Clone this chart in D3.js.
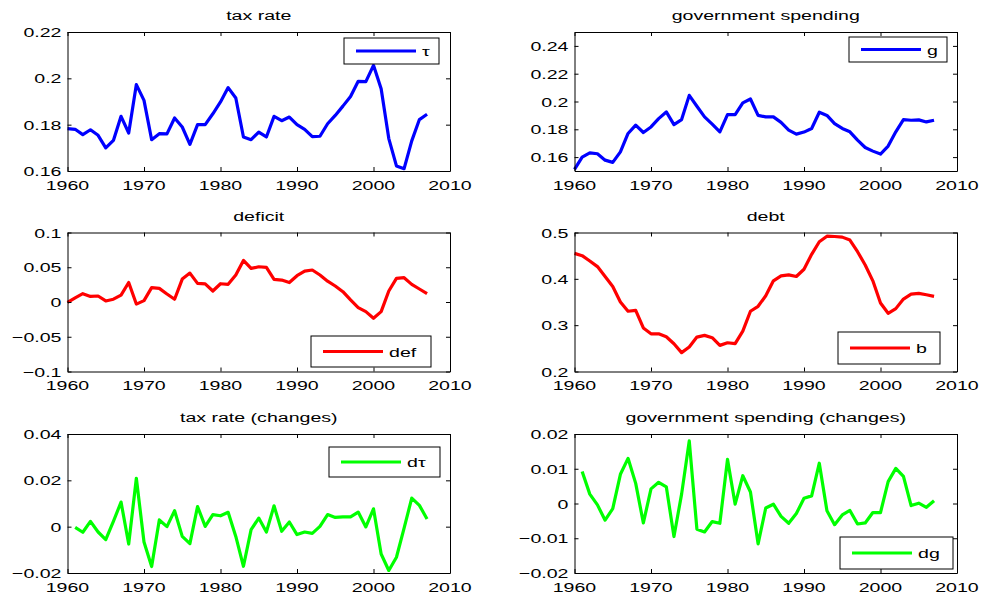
<!DOCTYPE html>
<html><head><meta charset="utf-8">
<script src="https://cdn.jsdelivr.net/npm/d3@7"></script>
<style>body{margin:0;background:#fff}svg{display:block}</style>
</head><body>
<svg id="c" width="986" height="601"></svg>
<script>
const years = d3.range(1960, 2008);
const yearsChg = d3.range(1961, 2008);

const tau = [0.1783,0.1780,0.1757,0.1778,0.1754,0.1700,0.1732,0.1836,0.1764,0.1973,
  0.1905,0.1735,0.1761,0.1760,0.1829,0.1790,0.1715,0.1800,0.1800,0.1847,
  0.1898,0.1960,0.1915,0.1747,0.1735,0.1768,0.1747,0.1836,0.1817,0.1833,
  0.1800,0.1780,0.1748,0.1750,0.1804,0.1840,0.1880,0.1922,0.1987,0.1986,
  0.2056,0.1955,0.1740,0.1622,0.1610,0.1730,0.1822,0.1845];
const g = [0.1512,0.1600,0.1631,0.1624,0.1578,0.1562,0.1638,0.1770,0.1830,0.1777,
  0.1817,0.1877,0.1925,0.1834,0.1870,0.2044,0.1966,0.1889,0.1837,0.1782,
  0.1906,0.1906,0.1990,0.2018,0.1900,0.1889,0.1889,0.1850,0.1794,0.1765,
  0.1780,0.1806,0.1923,0.1900,0.1841,0.1806,0.1782,0.1722,0.1669,0.1643,
  0.1622,0.1679,0.1782,0.1870,0.1865,0.1868,0.1853,0.1865];
const def = [-0.0005,0.006,0.012,0.008,0.0086,0.0015,0.004,0.010,0.028,-0.003,
  0.002,0.0206,0.0196,0.0115,0.004,0.033,0.0416,0.0268,0.026,0.0158,
  0.0263,0.0254,0.0388,0.0598,0.0483,0.0507,0.0498,0.0325,0.0316,0.028,
  0.0378,0.0445,0.046,0.0388,0.030,0.023,0.0148,0.003,-0.008,-0.0139,
  -0.0234,-0.0139,0.0158,0.034,0.035,0.0254,0.0187,0.012];
const debt = [0.455,0.450,0.4386,0.4264,0.405,0.3836,0.350,0.330,0.332,0.294,
  0.2814,0.2814,0.275,0.260,0.2407,0.2529,0.2743,0.278,0.273,0.2564,
  0.262,0.260,0.287,0.330,0.3407,0.3636,0.3957,0.4064,0.4086,0.405,
  0.4207,0.4529,0.480,0.492,0.4914,0.490,0.4836,0.4586,0.430,0.3957,
  0.3479,0.3257,0.3357,0.3564,0.3671,0.3686,0.3657,0.3621];
const dtau = [-0.0003,-0.0024,0.0023,-0.0023,-0.0056,0.0023,0.0106,-0.0075,0.0209,
  -0.0066,-0.0172,0.0029,0.0000,0.0069,-0.0042,-0.0073,0.0087,0.0001,0.0052,
  0.0047,0.0062,-0.0042,-0.0171,-0.0013,0.0037,-0.0023,0.0090,-0.0020,0.0020,
  -0.0034,-0.0023,-0.0029,0.0001,0.0052,0.0040,0.0042,0.0042,0.0063,-0.0001,
  0.0077,-0.0118,-0.0189,-0.0132,-0.0006,0.0123,0.0092,0.0033];
const dg = [0.0092,0.0027,-0.0004,-0.0048,-0.0015,0.0084,0.0130,0.0058,-0.0056,
  0.0042,0.0061,0.0048,-0.0095,0.0027,0.0180,-0.0074,-0.0082,-0.0052,-0.0057,
  0.0127,-0.0002,0.0080,0.0033,-0.0116,-0.0013,-0.0002,-0.0037,-0.0057,-0.0029,
  0.0015,0.0022,0.0116,-0.0021,-0.0061,-0.0033,-0.0020,-0.0059,-0.0056,-0.0026,
  -0.0026,0.0063,0.0101,0.0078,-0.0006,0.0001,-0.0011,0.0008];

const xTicks = [1960, 1970, 1980, 1990, 2000, 2010];
const xTickLabels = ["1960","1970","1980","1990","2000","2010"];
const tauTicks = [0.16, 0.18, 0.2, 0.22];
const tauTickLabels = ["0.16","0.18","0.2","0.22"];
const gTicks = [0.16, 0.18, 0.2, 0.22, 0.24];
const gTickLabels = ["0.16","0.18","0.2","0.22","0.24"];
const defTicks = [-0.1, -0.05, 0, 0.05, 0.1];
const defTickLabels = ["\u22120.1","\u22120.05","0","0.05","0.1"];
const debtTicks = [0.2, 0.3, 0.4, 0.5];
const debtTickLabels = ["0.2","0.3","0.4","0.5"];
const dtauTicks = [-0.02, 0, 0.02, 0.04];
const dtauTickLabels = ["\u22120.02","0","0.02","0.04"];
const dgTicks = [-0.02, -0.01, 0, 0.01, 0.02];
const dgTickLabels = ["\u22120.02","\u22120.01","0","0.01","0.02"];

const titles = ["tax rate","government spending","deficit","debt","tax rate (changes)","government spending (changes)"];
const legendNames = ["\u03C4","g","def","b","d\u03C4","dg"];

const panels = [
  {x: years, y: tau, dom:[0.16,0.22], ticks:tauTicks, labels:tauTickLabels, col:"#0000ff", left:67.5, top:32, leg:{x:344,y:38,w:95,h:26}},
  {x: years, y: g, dom:[0.15,0.25], ticks:gTicks, labels:gTickLabels, col:"#0000ff", left:574.5, top:32, leg:{x:849,y:37,w:98,h:25}},
  {x: years, y: def, dom:[-0.1,0.1], ticks:defTicks, labels:defTickLabels, col:"#ff0000", left:67.5, top:232.5, leg:{x:311,y:336,w:120,h:31}},
  {x: years, y: debt, dom:[0.2,0.5], ticks:debtTicks, labels:debtTickLabels, col:"#ff0000", left:574.5, top:232.5, leg:{x:838,y:332,w:102,h:32}},
  {x: yearsChg, y: dtau, dom:[-0.02,0.04], ticks:dtauTicks, labels:dtauTickLabels, col:"#00ff00", left:67.5, top:434, leg:{x:329,y:447,w:111,h:30}},
  {x: yearsChg, y: dg, dom:[-0.02,0.02], ticks:dgTicks, labels:dgTickLabels, col:"#00ff00", left:574.5, top:434, leg:{x:840,y:537,w:113,h:32}}
];

const W = 382.5, H = 139;
const FS = 13.5, SX = 1.45;
const svg = d3.select("#c");

function label(gp, x, y, txt, anchor, size) {
  gp.append("text")
    .attr("transform", `translate(${x},${y}) scale(${SX},1)`)
    .attr("text-anchor", anchor)
    .attr("font-family", "'Liberation Sans', Arial, sans-serif")
    .attr("font-size", size || FS)
    .attr("fill", "#000")
    .text(txt);
}

panels.forEach((p, i) => {
  const gp = svg.append("g");
  const xs = d3.scaleLinear().domain([1960, 2010]).range([p.left, p.left + W]);
  const ys = d3.scaleLinear().domain(p.dom).range([p.top + H, p.top]);
  const bottom = p.top + H, right = p.left + W;

  // data line
  const line = d3.line().x((d, k) => xs(p.x[k])).y(d => ys(d));
  gp.append("path").datum(p.y).attr("d", line)
    .attr("fill", "none").attr("stroke", p.col).attr("stroke-width", 3.2)
    .attr("stroke-linejoin", "round");

  // box axes with inward ticks
  const tl = 4;
  gp.append("g").attr("transform", `translate(0,${bottom})`)
    .call(d3.axisBottom(xs).tickValues(xTicks).tickSizeInner(-tl).tickSizeOuter(0).tickFormat(""));
  gp.append("g").attr("transform", `translate(0,${p.top})`)
    .call(d3.axisTop(xs).tickValues(xTicks).tickSizeInner(-tl).tickSizeOuter(0).tickFormat(""));
  gp.append("g").attr("transform", `translate(${p.left},0)`)
    .call(d3.axisLeft(ys).tickValues(p.ticks).tickSizeInner(-tl).tickSizeOuter(0).tickFormat(""));
  gp.append("g").attr("transform", `translate(${right},0)`)
    .call(d3.axisRight(ys).tickValues(p.ticks).tickSizeInner(-tl).tickSizeOuter(0).tickFormat(""));
  gp.selectAll(".domain").attr("stroke", "#000").attr("stroke-width", 1);
  gp.selectAll(".tick line").attr("stroke", "#000");

  // tick labels
  xTicks.forEach((t, k) => label(gp, xs(t), bottom + 18.5, xTickLabels[k], "middle"));
  p.ticks.forEach((t, k) => label(gp, p.left - 6, ys(t) + 5, p.labels[k], "end"));

  // title
  label(gp, p.left + W / 2, p.top - 12, titles[i], "middle");

  // legend
  const L = p.leg;
  gp.append("rect").attr("x", L.x).attr("y", L.y).attr("width", L.w).attr("height", L.h)
    .attr("fill", "#fff").attr("stroke", "#000").attr("stroke-width", 1);
  gp.append("line").attr("x1", L.x + 12).attr("x2", L.x + 12 + 60)
    .attr("y1", L.y + L.h / 2).attr("y2", L.y + L.h / 2)
    .attr("stroke", p.col).attr("stroke-width", 3.2);
  label(gp, L.x + 12 + 66, L.y + L.h / 2 + 5, legendNames[i], "start");
});
</script>
</body></html>
